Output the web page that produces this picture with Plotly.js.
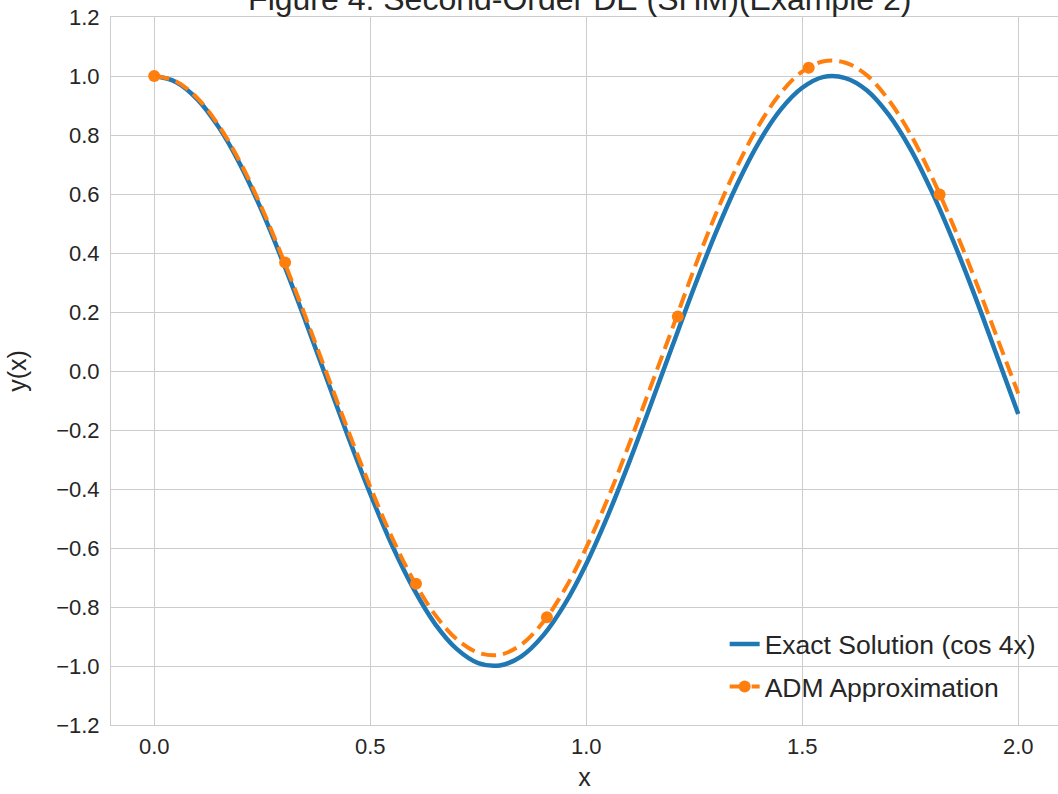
<!DOCTYPE html>
<html>
<head>
<meta charset="utf-8">
<script src="https://cdn.plot.ly/plotly-3.0.1.min.js"></script>
<style>html,body{margin:0;padding:0;background:#fff;}#chart{width:1058px;height:794px;}</style>
</head>
<body>
<div id="chart"></div>
<script>
// x grid (step 0.05)
const xGrid = [0,0.05,0.1,0.15,0.2,0.25,0.3,0.35,0.4,0.45,0.5,0.55,0.6,0.65,0.7,0.75,0.8,0.85,0.9,0.95,1.0,1.05,1.1,1.15,1.2,1.25,1.3,1.35,1.4,1.45,1.5,1.55,1.6,1.65,1.7,1.75,1.8,1.85,1.9,1.95,2.0];
// Exact solution (cos 4x) values
const exactY = [1.000,0.980,0.921,0.825,0.697,0.540,0.362,0.170,-0.029,-0.227,-0.416,-0.589,-0.737,-0.857,-0.942,-0.990,-0.998,-0.967,-0.897,-0.791,-0.654,-0.490,-0.307,-0.112,0.087,0.284,0.469,0.635,0.776,0.886,0.960,0.997,0.993,0.951,0.869,0.754,0.608,0.439,0.253,0.054,-0.146];
// ADM approximation values
const admY = [1.000,0.982,0.925,0.831,0.705,0.550,0.374,0.185,-0.011,-0.206,-0.392,-0.563,-0.709,-0.826,-0.909,-0.955,-0.962,-0.927,-0.852,-0.741,-0.599,-0.432,-0.246,-0.050,0.147,0.347,0.532,0.696,0.834,0.942,1.015,1.050,1.045,1.002,0.919,0.804,0.658,0.492,0.310,0.117,-0.076];
// ADM marker points
const markX = [0,0.303,0.606,0.909,1.212,1.515,1.818];
const markY = [1.000,0.368,-0.721,-0.835,0.185,1.028,0.598];
const yTicks = [-1.2,-1.0,-0.8,-0.6,-0.4,-0.2,0.0,0.2,0.4,0.6,0.8,1.0,1.2];
const xTicks = [0.0,0.5,1.0,1.5,2.0];

const BLUE = '#1f77b4', ORANGE = '#ff7f0e', TXT = '#262626', GRID = '#cccccc';
const FONT = '"Liberation Sans", Arial, sans-serif';

const traces = [
  {x: xGrid, y: exactY, type: 'scatter', mode: 'lines', line: {color: BLUE, width: 4.5, shape: 'spline'},
   showlegend: false, hoverinfo: 'skip'},
  {x: xGrid, y: admY, type: 'scatter', mode: 'lines', line: {color: ORANGE, width: 4, dash: '15px,7px', shape: 'spline'},
   showlegend: false, hoverinfo: 'skip'},
  {x: markX, y: markY, type: 'scatter', mode: 'markers', marker: {color: ORANGE, size: 12},
   showlegend: false, hoverinfo: 'skip'},
  {x: [null], y: [null], type: 'scatter', mode: 'lines', name: 'Exact Solution (cos 4x)',
   line: {color: BLUE, width: 4.5}, legendgroup: 'a'},
  {x: [null], y: [null], type: 'scatter', mode: 'lines+markers', name: 'ADM Approximation',
   line: {color: ORANGE, width: 4, dash: '15px,7px'}, marker: {color: ORANGE, size: 12}, legendgroup: 'b'}
];

const layout = {
  width: 1058, height: 794,
  margin: {l: 111, r: 0, t: 17, b: 69},
  paper_bgcolor: '#ffffff', plot_bgcolor: '#ffffff',
  font: {family: FONT, color: TXT, size: 22},
  title: {text: 'Figure 4: Second-Order DE (SHM)(Example 2)', font: {family: FONT, size: 32, color: TXT},
          x: 0.495, xanchor: 'center', xref: 'paper', yref: 'container', y: 1 - 10/794, yanchor: 'bottom'},
  xaxis: {range: [-0.1, 2.092], tickvals: xTicks, ticktext: xTicks.map(v => v.toFixed(1)),
          showgrid: true, gridcolor: GRID, gridwidth: 1, zeroline: false,
          showline: true, linecolor: GRID, linewidth: 1, mirror: true, ticks: '',
          ticklabelstandoff: 2, tickfont: {size: 22, color: TXT},
          title: {text: 'x', font: {size: 25, color: TXT}, standoff: 10}},
  yaxis: {range: [-1.2, 1.2], tickvals: yTicks, ticktext: yTicks.map(v => (v < 0 ? '\u2212' : '') + Math.abs(v).toFixed(1)),
          showgrid: true, gridcolor: GRID, gridwidth: 1, zeroline: false,
          showline: true, linecolor: GRID, linewidth: 1, mirror: true, ticks: '',
          ticklabelstandoff: 6, tickfont: {size: 22, color: TXT},
          title: {text: 'y(x)', font: {size: 25, color: TXT}, standoff: 22}},
  legend: {x: 0.648, xanchor: 'left', y: 0.148, yanchor: 'top', bgcolor: 'rgba(255,255,255,0)',
           font: {size: 26.5, color: TXT}, traceorder: 'grouped', tracegroupgap: 5, borderwidth: 0},
  showlegend: true
};

Plotly.newPlot('chart', traces, layout, {displayModeBar: false, staticPlot: true});
</script>
</body>
</html>
